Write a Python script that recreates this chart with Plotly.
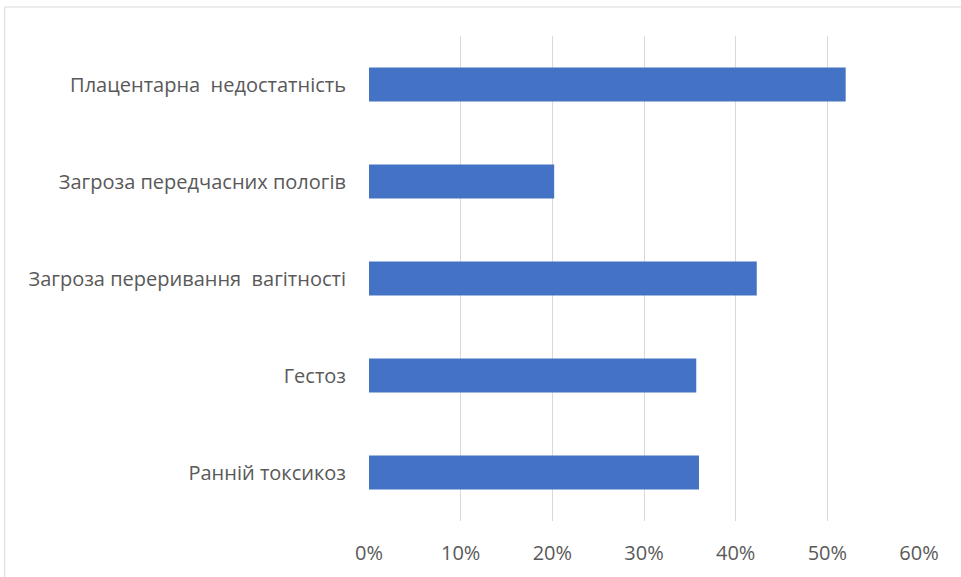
import plotly.graph_objects as go

# Complications, listed bottom to top as drawn on the horizontal bar chart
categories = [
    "Ранній токсикоз",
    "Гестоз",
    "Загроза переривання  вагітності",
    "Загроза передчасних пологів",
    "Плацентарна  недостатність",
]
shares = [0.36, 0.357, 0.423, 0.202, 0.52]

tick_vals = [0, 0.1, 0.2, 0.3, 0.4, 0.5, 0.6]
tick_text = ["0%", "10%", "20%", "30%", "40%", "50%", "60%"]

W, H = 961, 577
L, R, T, B = 368.5, 42.3, 36, 56
pw, ph = W - L - R, H - T - B

fig = go.Figure(
    go.Bar(
        x=shares,
        y=categories,
        orientation="h",
        marker=dict(color="#4472C4", line=dict(width=0)),
        hoverinfo="x+y",
    )
)

font = dict(family="Open Sans, Liberation Sans, sans-serif", size=20, color="#595959")

fig.update_layout(
    width=W,
    height=H,
    margin=dict(l=L, r=R, t=T, b=B, pad=0),
    paper_bgcolor="white",
    plot_bgcolor="white",
    bargap=0.65,
    showlegend=False,
    font=font,
    xaxis=dict(
        range=[0, 0.6],
        tickvals=tick_vals,
        ticktext=tick_text,
        showgrid=True,
        gridcolor="#d9d9d9",
        gridwidth=1,
        zeroline=False,
        showline=False,
        ticks="",
        ticklabelstandoff=18,
        tickfont=font,
        fixedrange=True,
    ),
    yaxis=dict(
        showgrid=False,
        zeroline=False,
        showline=False,
        ticks="",
        ticklabelstandoff=22,
        tickfont=font,
        fixedrange=True,
    ),
    shapes=[
        dict(
            type="rect",
            xref="paper",
            yref="paper",
            x0=(4 - L) / pw,
            x1=(W + 20 - L) / pw,
            y0=-(B + 20) / ph,
            y1=(H - B - 7) / ph,
            line=dict(color="#d9d9d9", width=1),
            fillcolor="rgba(0,0,0,0)",
            layer="below",
        )
    ],
)

fig.write_html("out.html")
